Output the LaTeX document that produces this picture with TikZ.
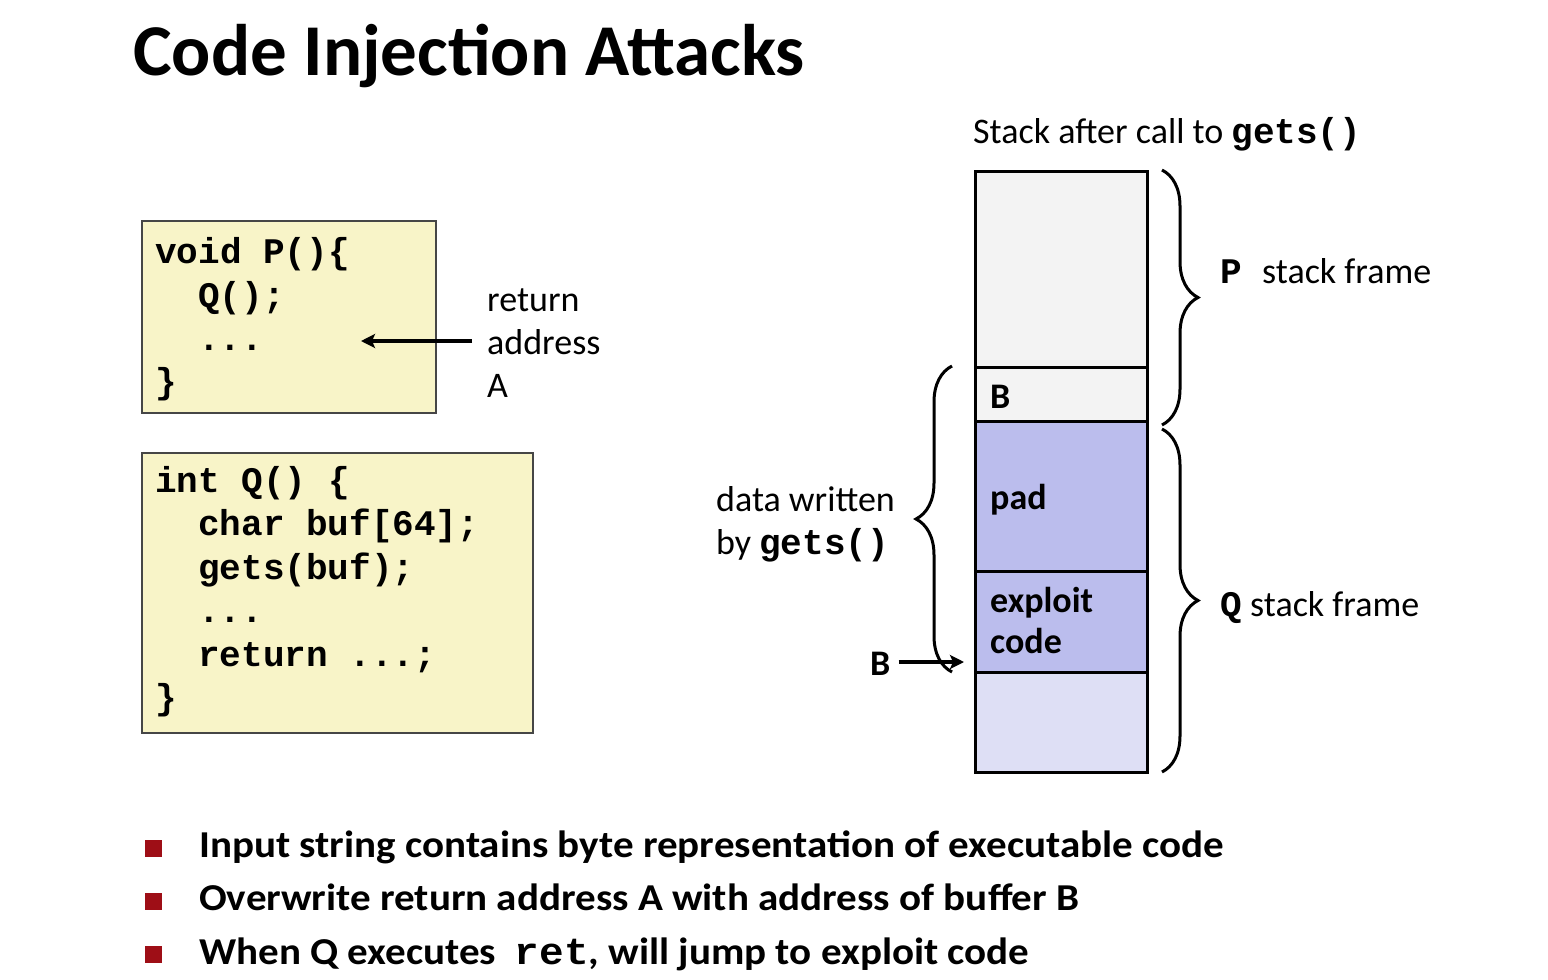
\documentclass[tikz,border=0pt]{standalone}
\usepackage{fontspec}
\setmainfont{Carlito}
\newfontfamily\mono{Liberation Mono}
\usetikzlibrary{arrows.meta,decorations.pathreplacing}
\definecolor{codebg}{RGB}{248,244,200}
\definecolor{codeborder}{RGB}{70,70,70}
\definecolor{cellgray}{RGB}{243,243,243}
\definecolor{cellblue}{RGB}{187,189,237}
\definecolor{celllight}{RGB}{222,223,245}
\definecolor{bulletred}{RGB}{158,14,22}
\begin{document}
\begin{tikzpicture}[x=1pt,y=-1pt,
  txt/.style={inner sep=0pt, anchor=base west, font=\fontsize{36}{43}\selectfont},
  btxt/.style={inner sep=0pt, anchor=base west, font=\bfseries\fontsize{36}{43}\selectfont},
  bultxt/.style={inner sep=0pt, anchor=base west, xscale=1.08, transform shape, font=\bfseries\fontsize{38}{43}\selectfont},
  code/.style={inner sep=0pt, anchor=base west, font=\mono\bfseries\fontsize{36}{43}\selectfont},
  codebox/.style={draw=codeborder, line width=2pt, fill=codebg, anchor=north west, inner sep=0pt},
  cell/.style={draw=black, line width=3pt, anchor=north west, inner sep=0pt, minimum width=172pt},
  arr/.style={line width=3.5pt, -{Stealth[length=14pt,width=14pt,inset=3pt]}},
  curly/.style={line width=3pt, decorate, decoration={brace, amplitude=36pt}},
  bullet/.style={fill=bulletred, inner sep=0pt, minimum size=17pt}
]
\useasboundingbox (0,0) rectangle (1548,980);
\fill[white] (0,0) rectangle (1548,980);

% title
\node[inner sep=0pt, anchor=base west, font=\bfseries\fontsize{73}{80}\selectfont] (title) at (133,75) {Code Injection Attacks};

% code box P
\node[codebox, minimum width=294pt, minimum height=192pt] (pbox) at (141,220) {};
\node[code] (p1) at (155,263) {void P()\{};
\node[code] (p2) at (198,307) {Q();};
\node[code] (p3) at (198,350) {...};
\node[code] (p4) at (155,393) {\}};

% code box Q
\node[codebox, minimum width=391pt, minimum height=280pt] (qbox) at (141,452) {};
\node[code] (q1) at (155,492) {int Q() \{};
\node[code] (q2) at (198,535.5) {char buf[64];};
\node[code] (q3) at (198,579) {gets(buf);};
\node[code] (q4) at (198,622.5) {...};
\node[code] (q5) at (198,666) {return ...;};
\node[code] (q6) at (155,709.5) {\}};

% return address label
\node[txt] (ret1) at (487,311) {return};
\node[txt] (ret2) at (487,354) {address};
\node[txt] (ret3) at (487,397) {A};
\coordinate (retstart) at (472,341);
\coordinate (rettgt) at (361,341);
\draw[arr] (retstart) -- (rettgt);

% stack
\node[txt] (stitle) at (973,143) {Stack after call to {\mono\bfseries gets()}};
\node[cell, fill=cellgray, minimum height=196pt] (s1) at (974,170) {};
\node[cell, fill=cellgray, minimum height=54pt] (s2) at (974,366) {};
\node[cell, fill=cellblue, minimum height=150pt] (s3) at (974,420) {};
\node[cell, fill=cellblue, minimum height=101pt] (s4) at (974,570) {};
\node[cell, fill=celllight, minimum height=100pt] (s5) at (974,671) {};

\node[btxt] (lb) at (990,408) {B};
\node[btxt] (lpad) at (990,509) {pad};
\node[btxt] (lexp) at (990,612) {exploit};
\node[btxt] (lcode) at (990,653) {code};

% braces
\coordinate (pb1) at (1162,170);
\coordinate (pb2) at (1162,425);
\coordinate (qb1) at (1162,429);
\coordinate (qb2) at (1162,772);
\coordinate (db1) at (952,672);
\coordinate (db2) at (952,366);
\draw[curly] (pb1) -- (pb2);
\draw[curly] (qb1) -- (qb2);
\draw[curly] (db1) -- (db2);

\node[code] (pl) at (1220,283) {P};
\node[txt] (pf) at (1262,283) {stack frame};
\node[code] (ql) at (1220,616) {Q};
\node[txt] (qf) at (1250,616) {stack frame};

\node[txt] (dw1) at (716,511) {data written};
\node[txt] (dw2) at (716,554) {by {\mono\bfseries gets()}};

\node[btxt] (bl) at (870,675) {B};
\coordinate (bt) at (964,662);
\draw[arr] (bl.east |- bt) ++(8,0) -- (bt);

% bullets
\node[bullet] (b1) at (153.5,848.5) {};
\node[bullet] (b2) at (153.5,901.5) {};
\node[bullet] (b3) at (153.5,954.5) {};
\node[bultxt] (t1) at (199,857) {Input string contains byte representation of executable code};
\node[bultxt] (t2) at (199,910) {Overwrite return address A with address of buffer B};
\node[bultxt] (t3) at (199,964) {When Q executes\ \ {\mono ret}, will jump to exploit code};
\end{tikzpicture}
\end{document}
